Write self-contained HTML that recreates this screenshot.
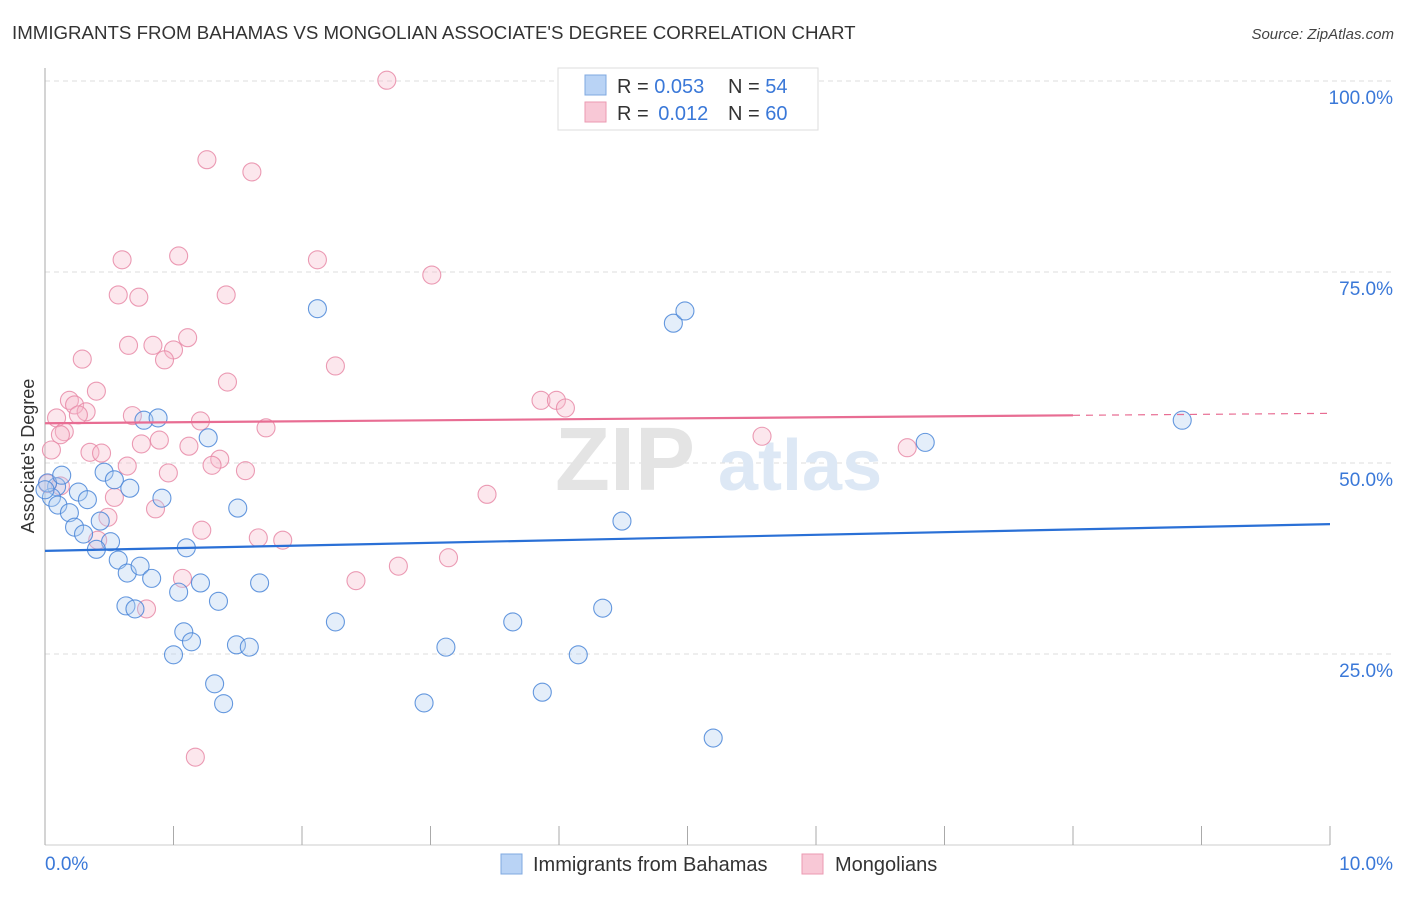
<!DOCTYPE html>
<html><head><meta charset="utf-8"><style>
body{margin:0;background:#fff;font-family:"Liberation Sans",sans-serif;}
svg text{font-family:"Liberation Sans",sans-serif;}
</style></head><body>
<svg id="chart" width="1406" height="892" xmlns="http://www.w3.org/2000/svg">
<text x="12" y="39" font-size="18.7" fill="#333">IMMIGRANTS FROM BAHAMAS VS MONGOLIAN ASSOCIATE'S DEGREE CORRELATION CHART</text>
<text x="1394" y="39" font-size="15" fill="#444" text-anchor="end" font-style="italic">Source: ZipAtlas.com</text>
<g id="grid"></g>
<text x="555" y="490" font-size="90" fill="#e4e4e4" font-family="Liberation Serif" font-weight="bold">ZIP</text>
<text x="718" y="490" font-size="72" fill="#dde8f5" font-weight="bold">atlas</text>
<g id="marks"></g>
<text transform="translate(34,456) rotate(-90)" font-size="18" fill="#333" text-anchor="middle">Associate's Degree</text>
<g>
<rect x="558" y="68" width="260" height="62" fill="#fff" stroke="#ddd"/>
<rect x="585" y="75" width="21" height="20" fill="#b9d3f5" stroke="#7fa8e0"/>
<rect x="585" y="102" width="21" height="20" fill="#f8c8d6" stroke="#eb9ab2"/>
<text x="617" y="93" font-size="20" fill="#333">R = <tspan fill="#3a78d8">0.053</tspan><tspan x="728">N = </tspan><tspan fill="#3a78d8">54</tspan></text>
<text x="617" y="120" font-size="20" fill="#333">R = <tspan fill="#3a78d8" dx="4">0.012</tspan><tspan x="728">N = </tspan><tspan fill="#3a78d8">60</tspan></text>
</g>
<g>
<rect x="501" y="854" width="21" height="20" fill="#b9d3f5" stroke="#7fa8e0"/>
<text x="533" y="871" font-size="20" fill="#333">Immigrants from Bahamas</text>
<rect x="802" y="854" width="21" height="20" fill="#f8c8d6" stroke="#eb9ab2"/>
<text x="835" y="871" font-size="20" fill="#333">Mongolians</text>
</g>
</svg>
<script>
const xTicksLabels=["0.0%","10.0%"];
const yTickValues=[25,50,75,100];
const blueX=[2.12,4.89,4.98,6.85,8.85,4.49,1.27,0.77,0.88,0.46,0.54,0.66,0.91,1.50,0.26,0.33,0.09,0.05,0.10,0.19,0.23,0.30,0.43,0.51,0.40,0.57,0.64,0.74,0.83,1.10,1.04,1.21,1.35,1.67,0.63,0.70,1.08,1.14,1.00,1.32,1.39,1.49,1.59,2.26,3.12,3.64,4.34,4.15,3.87,2.95,5.20,0.02,0.0,0.13];
const blueY=[70.2,68.3,69.9,52.7,55.6,42.4,53.3,55.6,55.9,48.8,47.8,46.7,45.4,44.1,46.2,45.2,46.9,45.5,44.5,43.5,41.6,40.7,42.4,39.7,38.7,37.3,35.6,36.5,34.9,38.9,33.1,34.3,31.9,34.3,31.3,30.9,27.9,26.6,24.9,21.1,18.5,26.2,25.9,29.2,25.9,29.2,31.0,24.9,20.0,18.6,14.0,47.4,46.5,48.4];
const pinkX=[2.66,1.26,1.61,0.60,1.04,2.12,3.01,0.57,0.73,1.41,1.11,0.65,0.84,1.00,0.93,0.29,2.26,1.42,0.40,0.19,0.23,0.32,0.09,0.26,0.68,1.21,1.72,0.15,0.12,0.05,0.35,0.44,0.89,0.75,1.12,1.36,1.30,0.64,1.56,0.96,0.02,0.12,0.54,0.86,0.49,0.41,1.22,1.66,1.85,3.44,3.86,3.98,4.05,5.58,6.71,3.14,2.75,2.42,1.07,0.79,1.17];
const pinkY=[100.1,89.7,88.1,76.6,77.1,76.6,74.6,72.0,71.7,72.0,66.4,65.4,65.4,64.8,63.5,63.6,62.7,60.6,59.4,58.2,57.6,56.7,55.9,56.3,56.2,55.5,54.6,54.1,53.7,51.7,51.4,51.3,53.0,52.5,52.2,50.5,49.7,49.6,49.0,48.7,47.3,47.0,45.5,44.0,42.9,39.9,41.2,40.2,39.9,45.9,58.2,58.2,57.2,53.5,52.0,37.6,36.5,34.6,34.9,30.9,11.5];
const blueTrend=[38.5,42.0];
const pinkTrend=[55.2,56.5];
const pinkTrendSolidEnd=8.0;
const NS="http://www.w3.org/2000/svg";
const X=v=>45+v*128.5, Y=v=>845-v*7.64;
function mk(tag,attrs,parent){const e=document.createElementNS(NS,tag);for(const k in attrs)e.setAttribute(k,attrs[k]);parent.appendChild(e);return e;}
const grid=document.getElementById('grid'), marks=document.getElementById('marks');
yTickValues.forEach(v=>{
 const l=mk('line',{x1:45,x2:1394,y1:Y(v),y2:Y(v),stroke:'#ddd','stroke-dasharray':'5,4'},grid);
 
 
 const t=mk('text',{x:1393,y:Y(v)+23,'font-size':19,fill:'#3a78d8','text-anchor':'end'},grid);
 t.textContent=v.toFixed(1)+'%';
 
 
});
const ax=mk('line',{x1:45,x2:45,y1:68,y2:845,stroke:'#aaa'},grid);


const bx=mk('line',{x1:45,x2:1330,y1:845,y2:845,stroke:'#ccc'},grid);


for(let i=0;i<=10;i++){
 const t=mk('line',{x1:X(i),x2:X(i),y1:826,y2:845,stroke:'#aaa'},grid);
 
 
}
const xl0=mk('text',{x:45,y:870,'font-size':19,fill:'#3a78d8'},grid);xl0.textContent=xTicksLabels[0];


const xl1=mk('text',{x:1393,y:870,'font-size':19,fill:'#3a78d8','text-anchor':'end'},grid);xl1.textContent=xTicksLabels[1];


function dots(xs,ys,fill,stroke,name){xs.forEach((x,i)=>{
 const c=mk('circle',{cx:X(x),cy:Y(ys[i]),r:9,fill:fill,'fill-opacity':0.35,stroke:stroke,'stroke-width':1.1,'stroke-opacity':0.85},marks);
 
 
});}
dots(pinkX,pinkY,'#f7b9cc','#e889a7','point-mongolians');
dots(blueX,blueY,'#b2cdf2','#4a86d8','point-bahamas');
const bl=mk('line',{x1:X(0),x2:X(10),y1:Y(blueTrend[0]),y2:Y(blueTrend[1]),stroke:'#2a70d6','stroke-width':2.2},marks);


const pm=v=>pinkTrend[0]+(pinkTrend[1]-pinkTrend[0])*v/10;
const pl=mk('line',{x1:X(0),x2:X(pinkTrendSolidEnd),y1:Y(pm(0)),y2:Y(pm(pinkTrendSolidEnd)),stroke:'#e86d93','stroke-width':2.2},marks);


const pd=mk('line',{x1:X(pinkTrendSolidEnd),x2:X(10),y1:Y(pm(pinkTrendSolidEnd)),y2:Y(pm(10)),stroke:'#e86d93','stroke-width':1.2,'stroke-dasharray':'7,6'},marks);


</script>
</body></html>
